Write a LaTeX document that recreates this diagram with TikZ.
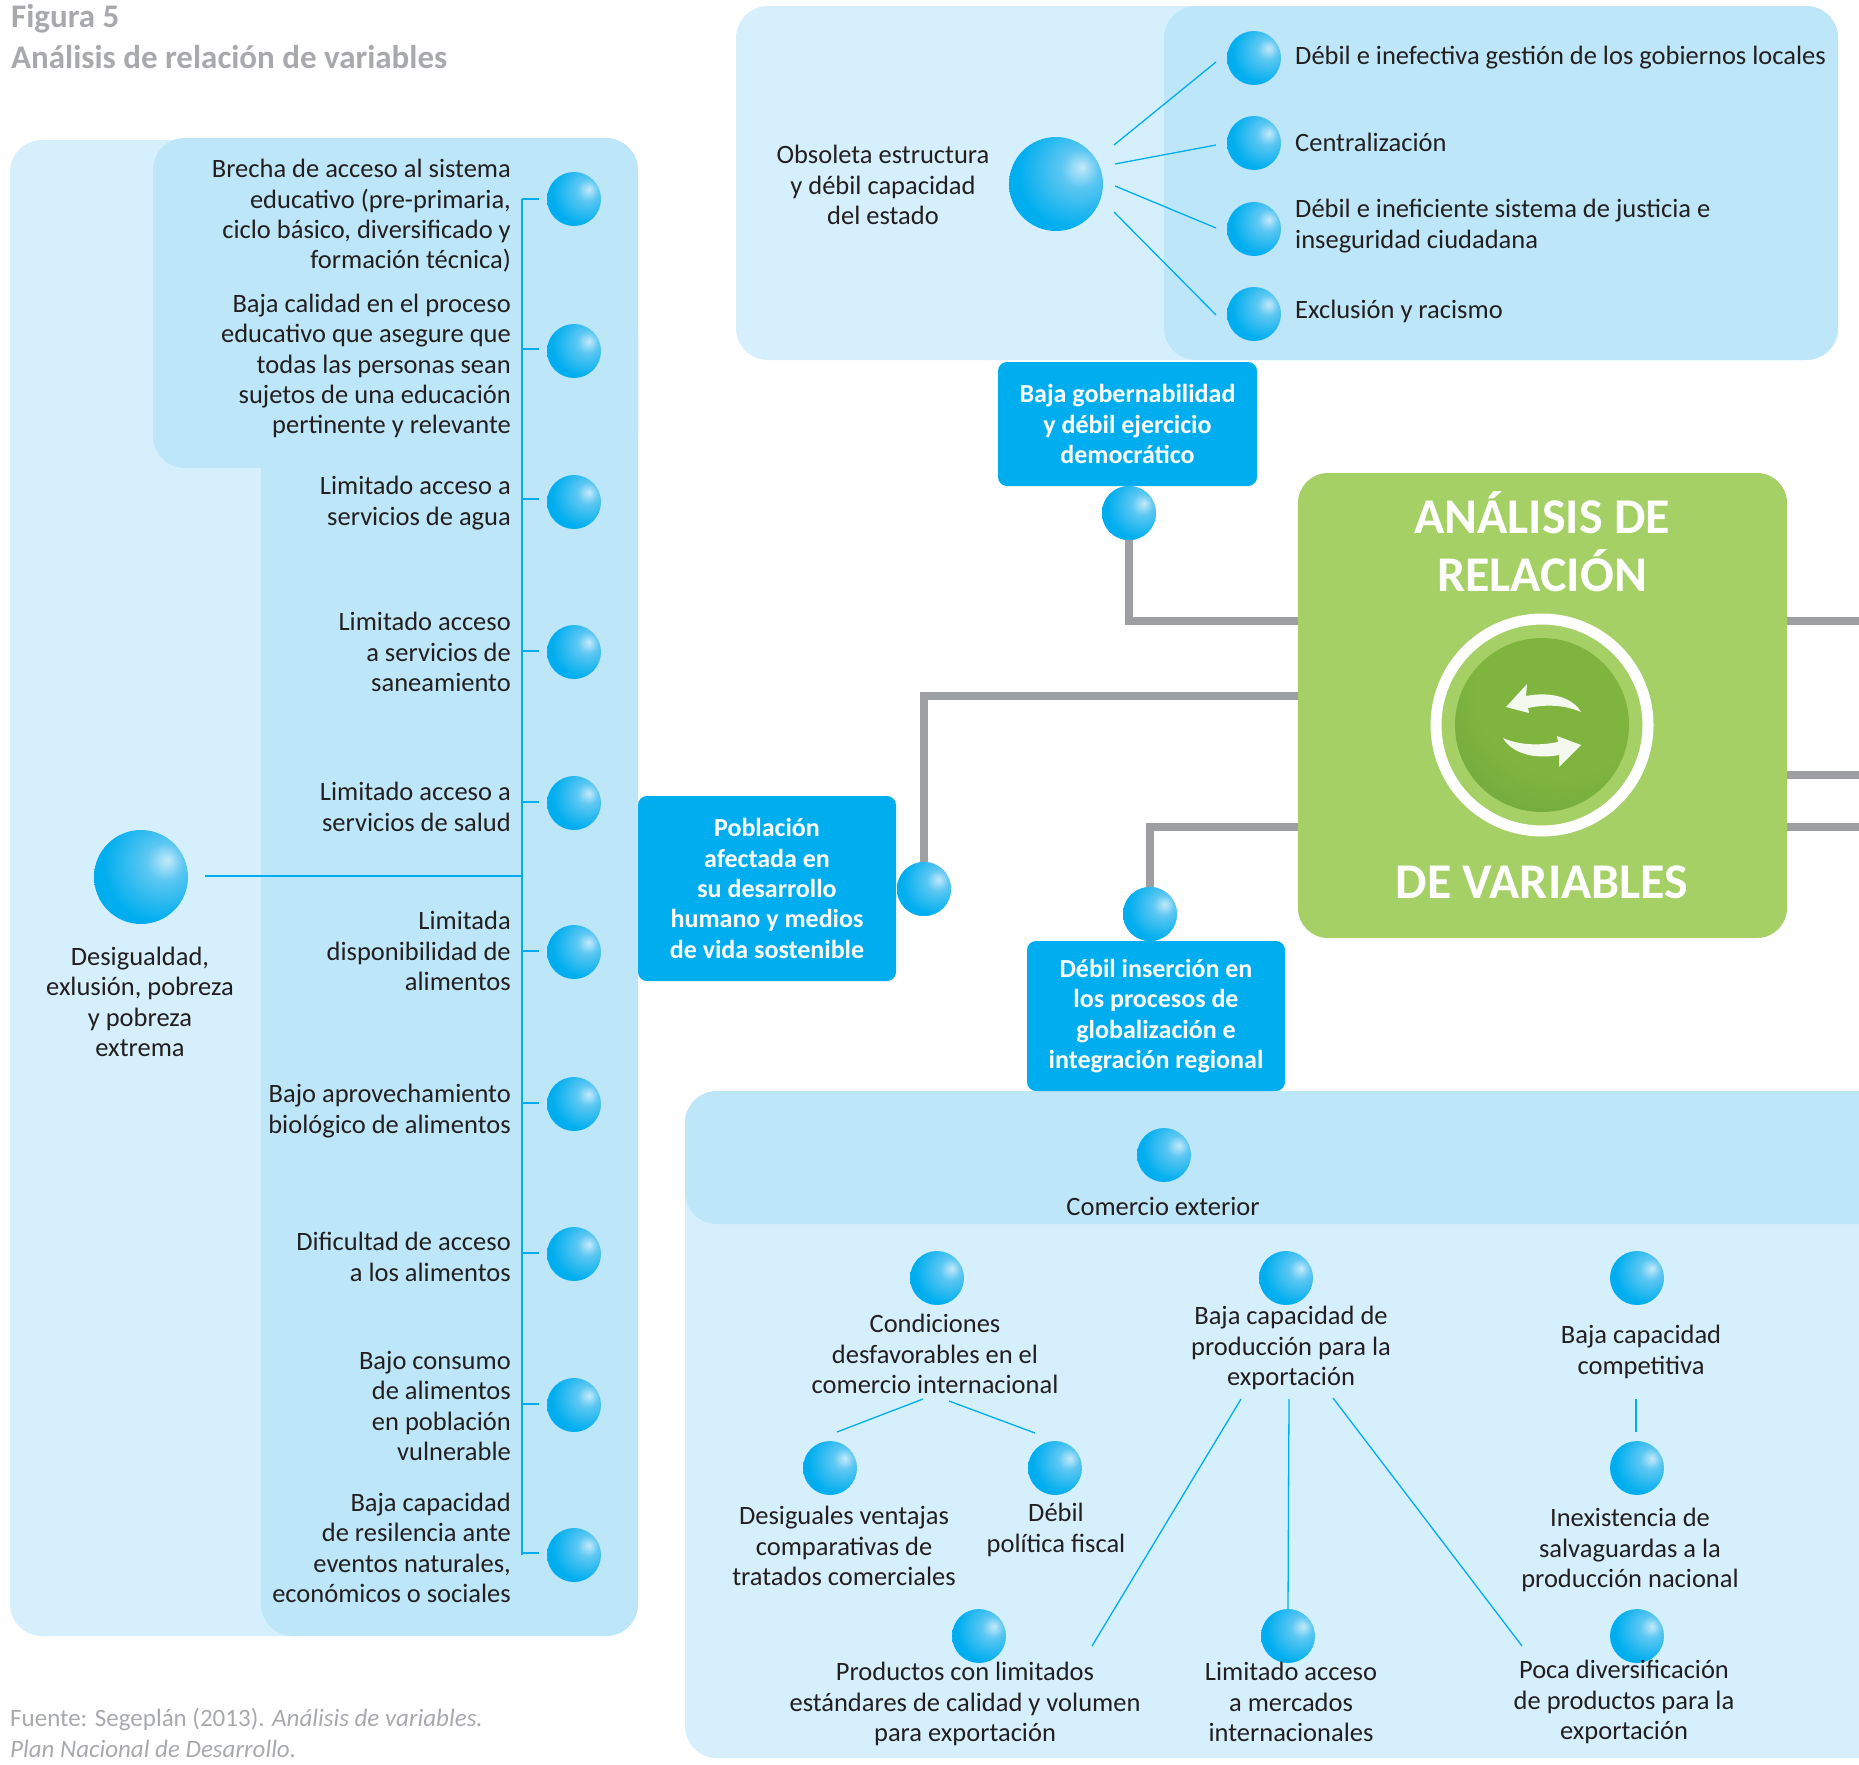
\documentclass[tikz,border=0pt]{standalone}
\usepackage{fontspec}
\setmainfont{Carlito}
\definecolor{lightp}{HTML}{D6EFFC}
\definecolor{darkp}{HTML}{BDE6F8}
\definecolor{cy}{HTML}{00AEEF}
\definecolor{hl}{HTML}{C4E9FA}
\definecolor{mid}{HTML}{5CC7F2}
\definecolor{gbox}{HTML}{A5D066}
\definecolor{grayc}{HTML}{9D9FA2}
\definecolor{txt}{HTML}{231F20}
\definecolor{ttl}{HTML}{A7A9AC}
\definecolor{gin}{HTML}{7FB53E}
\definecolor{gout}{HTML}{5C9740}
\pgfdeclareradialshading{ballshade}{\pgfpoint{14bp}{9bp}}{color(0bp)=(hl); color(10bp)=(mid); color(30bp)=(cy); color(60bp)=(cy); color(100bp)=(cy)}
\pgfdeclareradialshading{greenshade}{\pgfpoint{8bp}{14bp}}{color(0bp)=(gin); color(25bp)=(gin); color(60bp)=(gout); color(100bp)=(gout)}
\tikzset{
  ballnode/.style={circle,minimum size=54pt,inner sep=0pt,shading=ballshade},
  bigball/.style={circle,minimum size=94pt,inner sep=0pt,shading=ballshade},
  lbl/.style={font=\fontsize{26.5}{30.3}\selectfont,text=txt,inner sep=0pt,align=center},
  lblr/.style={lbl,align=right,anchor=east},
  lbll/.style={lbl,align=left,anchor=west},
  bluebox/.style={fill=cy,rounded corners=9pt,text=white,align=center,inner sep=0pt,font=\fontsize{26}{30.3}\selectfont\bfseries},
  thin line/.style={draw=cy,line width=1.3pt},
  gray link/.style={draw=grayc,line width=7.5pt},
  panel light/.style={fill=lightp,rounded corners=32pt},
  panel dark/.style={fill=darkp,rounded corners=32pt},
  big title/.style={text=white,inner sep=0pt,font=\fontsize{50}{50}\selectfont\bfseries},
  fig title/.style={text=ttl,inner sep=0pt,anchor=west,font=\fontsize{33}{38}\selectfont\bfseries},
  source/.style={text=ttl,inner sep=0pt,anchor=west,font=\fontsize{25}{30}\selectfont},
}
\begin{document}
\begin{tikzpicture}[x=1pt,y=-1pt]
\useasboundingbox (0,0) rectangle (1859,1764);
\clip (0,0) rectangle (1859,1764);
% panels
\fill[panel light] (10,140) rectangle (638,1636);
\fill[panel dark] (153,138) rectangle (638,468);
\fill[panel dark] (261,300) rectangle (638,1636);
\fill[panel light] (736,6) rectangle (1838,360);
\fill[panel dark] (1164,6) rectangle (1838,360);
\fill[panel light] (685,1091) rectangle (1960,1758);
\fill[panel dark] (685,1091) rectangle (1960,1224);
% titles
\node[fig title] (t1) at (11,19) {Figura 5};
\node[fig title] (t2) at (11,57) {Análisis de relación de variables};
\node[source] (s1) at (10,1719) {Fuente: Segeplán (2013). \textit{Análisis de variables.}};
\node[source] (s2) at (10,1749) {\textit{Plan Nacional de Desarrollo.}};
% central box and coordinates
\node[fill=gbox,rounded corners=30pt,minimum width=489pt,minimum height=465pt,inner sep=0pt] (central) at (1542.5,705.5) {};
\coordinate (g1) at (1298,621);
\coordinate (g2) at (1298,696);
\coordinate (g3) at (1298,827);
\coordinate (r1a) at (1787,621);
\coordinate (r1b) at (1859,621);
\coordinate (r2a) at (1787,775);
\coordinate (r2b) at (1859,775);
\coordinate (r3a) at (1787,827);
\coordinate (r3b) at (1859,827);
% blue boxes
\node[bluebox,minimum width=259pt,minimum height=124pt] (boxa) at (1127.5,424) {Baja gobernabilidad\\y débil ejercicio\\democrático};
\node[bluebox,minimum width=258pt,minimum height=185pt] (boxb) at (767,888.5) {Población\\afectada en\\su desarrollo\\humano y medios\\de vida sostenible};
\node[bluebox,minimum width=258pt,minimum height=150pt] (boxc) at (1156,1016) {Débil inserción en\\los procesos de\\globalización e\\integración regional};
% grey links
\node[ballnode] (ga) at (1129,513) {};
\node[ballnode] (gb) at (924,889) {};
\node[ballnode] (gc) at (1150,914) {};
\begin{scope}[on background layer/.style={}]
\draw[gray link] (ga.south) |- (g1);
\draw[gray link] (gb.north) |- (g2);
\draw[gray link] (gc.north) |- (g3);
\draw[gray link] (r1a) -- (r1b);
\draw[gray link] (r2a) -- (r2b);
\draw[gray link] (r3a) -- (r3b);
\end{scope}
\node[ballnode] at (ga) {};
\node[ballnode] at (gb) {};
\node[ballnode] at (gc) {};
% central title and emblem
\node[big title] (c1) at (1542,513) {ANÁLISIS DE};
\node[big title] (c2) at (1542,571) {RELACIÓN};
\node[big title] (c3) at (1542,882) {DE VARIABLES};
\node[circle,draw=white,line width=11pt,minimum size=212pt,inner sep=0pt] (ring) at (1542,725) {};
\node[circle,minimum size=174pt,inner sep=0pt,shading=greenshade] (emblem) at (1542,725) {};
\fill[white,opacity=.92] (1506,707) -- (1527,684) -- (1526,696) .. controls (1552,691) and (1573,698) .. (1581,712) .. controls (1565,705) and (1546,704) .. (1528,708) -- (1529,713) -- cycle;
\begin{scope}[rotate around={180:(1542,725)}]
\fill[white,opacity=.92] (1503,705) -- (1525,683) -- (1525,695) .. controls (1552,690) and (1573,698) .. (1581,712) .. controls (1565,705) and (1546,704) .. (1526,708) -- (1527,714) -- cycle;
\end{scope}
% left column
\node[bigball] (L) at (141,877) {};
\node[lbl] (Lt) at (140,1002) {Desigualdad,\\exlusión, pobreza\\y pobreza\\extrema};
\node[ballnode] (l1) at (574,199) {};
\node[ballnode] (l2) at (574,351) {};
\node[ballnode] (l3) at (574,502) {};
\node[ballnode] (l4) at (574,652) {};
\node[ballnode] (l5) at (574,803) {};
\node[ballnode] (l6) at (574,952) {};
\node[ballnode] (l7) at (574,1104) {};
\node[ballnode] (l8) at (574,1254) {};
\node[ballnode] (l9) at (574,1405) {};
\node[ballnode] (l10) at (574,1555) {};
\coordinate (bus1) at (522,199);
\coordinate (bus10) at (522,1555);
\coordinate (busm) at (522,876);
\coordinate (Lend) at (205,876);
\draw[thin line] (Lend) -- (busm);
\foreach \y/\n in {199/s1,349/s2,499/s3,651/s4,802/s5,951/s6,1103/s7,1253/s8,1404/s9,1553/s10}{
  \coordinate (a\n) at (522,\y);
  \coordinate (b\n) at (539,\y);
  \draw[thin line] (a\n) -- (b\n);
}
\draw[thin line] (bus1) -- (bus10);
\node[lblr] (x1) at (511,216) {Brecha de acceso al sistema\\educativo (pre-primaria,\\ciclo básico, diversificado y\\formación técnica)};
\node[lblr] (x2) at (511,366) {Baja calidad en el proceso\\educativo que asegure que\\todas las personas sean\\sujetos de una educación\\pertinente y relevante};
\node[lblr] (x3) at (511,503) {Limitado acceso a\\servicios de agua};
\node[lblr] (x4) at (511,652) {Limitado acceso\\a servicios de\\saneamiento};
\node[lblr] (x5) at (511,807) {Limitado acceso a\\servicios de salud};
\node[lblr] (x6) at (511,951) {Limitada\\disponibilidad de\\alimentos};
\node[lblr] (x7) at (511,1111) {Bajo aprovechamiento\\biológico de alimentos};
\node[lblr] (x8) at (511,1257) {Dificultad de acceso\\a los alimentos};
\node[lblr] (x9) at (511,1406) {Bajo consumo\\de alimentos\\en población\\vulnerable};
\node[lblr] (x10) at (511,1548) {Baja capacidad\\de resilencia ante\\eventos naturales,\\económicos o sociales};
% top panel
\node[bigball] (T) at (1056,184) {};
\node[lbl] (Tt) at (883,185) {Obsoleta estructura\\y débil capacidad\\del estado};
\node[ballnode] (t1b) at (1254,58) {};
\node[ballnode] (t2b) at (1254,143) {};
\node[ballnode] (t3b) at (1254,229) {};
\node[ballnode] (t4b) at (1254,314) {};
\node[lbll] (tx1) at (1295,58) {Débil e inefectiva gestión de los gobiernos locales};
\node[lbll] (tx2) at (1295,142) {Centralización};
\node[lbll] (tx3) at (1295,226) {Débil e ineficiente sistema de justicia e\\inseguridad ciudadana};
\node[lbll] (tx4) at (1295,311) {Exclusión y racismo};
\coordinate (ta1) at (1114,145); \coordinate (te1) at (1216,62);
\coordinate (ta2) at (1115,164); \coordinate (te2) at (1216,145);
\coordinate (ta3) at (1115,186); \coordinate (te3) at (1216,228);
\coordinate (ta4) at (1114,212); \coordinate (te4) at (1216,315);
\draw[thin line] (ta1) -- (te1);
\draw[thin line] (ta2) -- (te2);
\draw[thin line] (ta3) -- (te3);
\draw[thin line] (ta4) -- (te4);
% bottom panel
\node[ballnode] (C) at (1164,1155) {};
\node[lbl] (Ct) at (1163,1206) {Comercio exterior};
\node[ballnode] (c1b) at (937,1278) {};
\node[lbl] (c1t) at (935,1354) {Condiciones\\desfavorables en el\\comercio internacional};
\node[ballnode] (c2b) at (1286,1278) {};
\node[lbl] (c2t) at (1291,1348) {Baja capacidad de\\producción para la\\exportación};
\node[ballnode] (c3b) at (1637,1278) {};
\node[lbl] (c3t) at (1641,1352) {Baja capacidad\\competitiva};
\node[ballnode] (d1b) at (830,1468) {};
\node[lbl] (d1t) at (844,1546) {Desiguales ventajas\\comparativas de\\tratados comerciales};
\node[ballnode] (d2b) at (1055,1468) {};
\node[lbl] (d2t) at (1056,1530) {Débil\\política fiscal};
\node[ballnode] (d3b) at (1637,1468) {};
\node[lbl] (d3t) at (1630,1550) {Inexistencia de\\salvaguardas a la\\producción nacional};
\node[ballnode] (e1b) at (979,1636) {};
\node[lbl] (e1t) at (965,1704) {Productos con limitados\\estándares de calidad y volumen\\para exportación};
\node[ballnode] (e2b) at (1288,1636) {};
\node[lbl] (e2t) at (1291,1702) {Limitado acceso\\a mercados\\internacionales};
\node[ballnode] (e3b) at (1637,1636) {};
\node[lbl] (e3t) at (1624,1702) {Poca diversificación\\de productos para la\\exportación};
\coordinate (p1) at (923,1399); \coordinate (q1) at (837,1432);
\coordinate (p2) at (949,1401); \coordinate (q2) at (1035,1433);
\coordinate (p3) at (1241,1399); \coordinate (q3) at (1092,1646);
\coordinate (p4) at (1289,1399);
\coordinate (p5) at (1333,1398); \coordinate (q5) at (1522,1646);
\coordinate (p6) at (1636,1399); \coordinate (q6) at (1636,1432);
\draw[thin line] (p1) -- (q1);
\draw[thin line] (p2) -- (q2);
\draw[thin line] (p3) -- (q3);
\draw[thin line] (p4) -- (e2b.north);
\draw[thin line] (p5) -- (q5);
\draw[thin line] (p6) -- (q6);
\end{tikzpicture}
\end{document}
